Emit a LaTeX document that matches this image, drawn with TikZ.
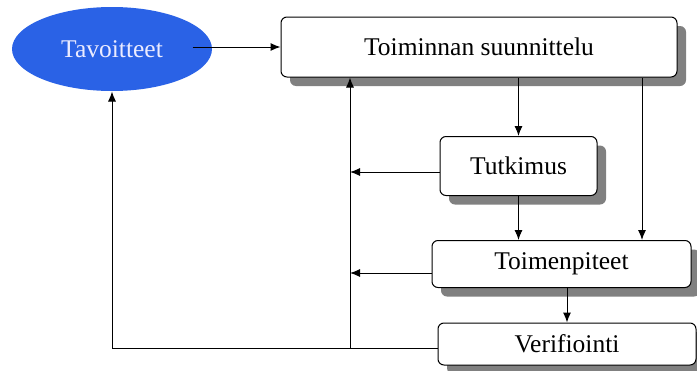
\documentclass[tikz,border=0pt]{standalone}
\usepackage{fontspec}
\setmainfont{Liberation Serif}
\usetikzlibrary{shapes.geometric,shadows,arrows.meta}
\definecolor{tavblue}{RGB}{42,98,230}

\begin{document}
\begin{tikzpicture}[x=1pt, y=-1pt, line width=1pt,
  font=\fontsize{25.5}{30}\selectfont,
  >={Latex[length=10pt,width=8pt]},
  box/.style={draw, rounded corners=6pt, fill=white, inner sep=0pt,
    drop shadow={shadow xshift=9pt, shadow yshift=-9pt, fill=black!50, opacity=1}},
  goal/.style={ellipse, fill=tavblue, text=white!92!blue, inner sep=0pt}]
\useasboundingbox (0,0) rectangle (697,370);
\node[goal, minimum width=200, minimum height=84] (tav) at (112,49) {Tavoitteet};
\node[box, minimum width=396, minimum height=60] (plan) at (479,47) {Toiminnan suunnittelu};
\node[box, minimum width=157, minimum height=59] (tutk) at (518.5,166) {Tutkimus};
\node[box, minimum width=259, minimum height=47] (toim) at (561.5,264) {Toimenpiteet};
\node[box, minimum width=258, minimum height=42] (veri) at (567,344) {Verifiointi};
\coordinate (bus) at (350,348);
\coordinate (side) at (642,0);
\draw[->] ([xshift=-20pt]tav.east |- plan.west) -- (plan.west);
\draw[->] (plan.south -| tutk.north) -- (tutk.north);
\draw[->] (plan.south -| side) -- (toim.north -| side);
\draw[->] (tutk.south -| tutk.north) -- (tutk.south |- toim.north);
\draw[->] (toim.south -| veri.north) -- (veri.north);
\draw[->] ([yshift=-6pt]tutk.west) -- ([yshift=-6pt]tutk.west -| bus);
\draw[->] ([yshift=-9pt]toim.west) -- ([yshift=-9pt]toim.west -| bus);
\draw[->] (veri.west |- bus) -- (tav.south |- bus) -- (tav.south);
\draw[->] (bus) -- (bus |- plan.south);
\end{tikzpicture}
\end{document}
